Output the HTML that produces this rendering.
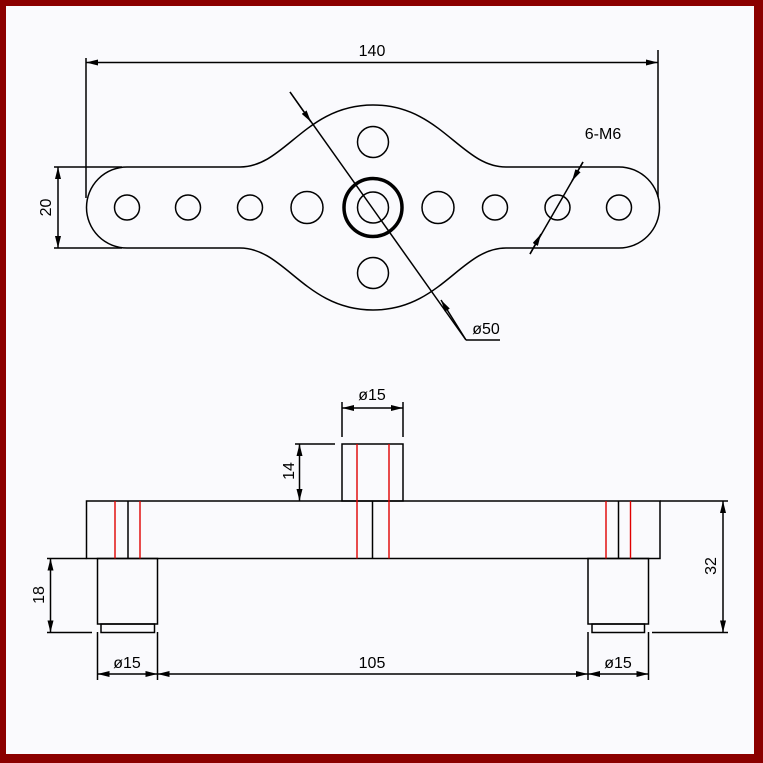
<!DOCTYPE html>
<html><head><meta charset="utf-8"><style>
html,body{margin:0;padding:0;background:#fff}
svg{display:block}
text{font-family:"Liberation Sans Narrow","Liberation Sans","DejaVu Sans",sans-serif;font-size:16px;fill:#000}
</style></head><body>
<svg width="763" height="763" viewBox="0 0 763 763" xmlns="http://www.w3.org/2000/svg">
<defs>
<marker id="a" viewBox="0 0 12 6" refX="12" refY="3" markerWidth="12" markerHeight="6" markerUnits="userSpaceOnUse" orient="auto-start-reverse"><path d="M0,0 L12,3 L0,6 z" fill="#000"/></marker>
</defs>
<rect x="0" y="0" width="763" height="763" fill="#8b0000"/>
<rect x="6" y="6" width="748" height="748" fill="#fafafd"/>
<g stroke="#000" stroke-width="1.5" fill="none">
<path d="M127,167 L240,167 C285,167 305,105 373,105 C441,105 461,167 506,167 L619,167 A40.5,40.5 0 0 1 619,248 L506,248 C461,248 441,310 373,310 C305,310 285,248 240,248 L127,248 A40.5,40.5 0 0 1 127,167 Z"/>
<circle cx="127" cy="207.5" r="12.5"/>
<circle cx="188" cy="207.5" r="12.5"/>
<circle cx="250" cy="207.5" r="12.5"/>
<circle cx="307" cy="207.5" r="16"/>
<circle cx="438" cy="207.5" r="16"/>
<circle cx="495" cy="207.5" r="12.5"/>
<circle cx="557.5" cy="207.5" r="12.5"/>
<circle cx="619" cy="207.5" r="12.5"/>
<circle cx="373" cy="142" r="15.5"/>
<circle cx="373" cy="273" r="15.5"/>
<circle cx="373" cy="207.5" r="15.5"/>
<circle cx="373" cy="207.5" r="29" stroke-width="3.5"/>
<line x1="86" y1="58" x2="86" y2="198"/>
<line x1="658" y1="50" x2="658" y2="197"/>
<line x1="86" y1="62.5" x2="658" y2="62.5" marker-start="url(#a)" marker-end="url(#a)"/>
<line x1="54" y1="167" x2="122" y2="167"/>
<line x1="54" y1="248" x2="122" y2="248"/>
<line x1="58" y1="167" x2="58" y2="248" marker-start="url(#a)" marker-end="url(#a)"/>
<line x1="290" y1="92" x2="466" y2="340"/>
<line x1="466" y1="340" x2="500" y2="340"/>
<line x1="290" y1="92" x2="311" y2="122" marker-end="url(#a)"/>
<line x1="466" y1="340" x2="441" y2="300" marker-end="url(#a)"/>
<line x1="583" y1="162" x2="530" y2="254"/>
<line x1="583" y1="162" x2="572" y2="181" marker-end="url(#a)"/>
<line x1="530" y1="254" x2="541" y2="234" marker-end="url(#a)"/>

<rect x="86.5" y="501" width="573.5" height="57.5"/>
<line x1="660" y1="501" x2="728" y2="501"/>
<line x1="47" y1="558.5" x2="86.5" y2="558.5"/>
<rect x="342" y="444" width="61" height="57"/>
<line x1="372.5" y1="501" x2="372.5" y2="558.5"/>
<line x1="128" y1="501" x2="128" y2="558.5"/>
<line x1="618.5" y1="501" x2="618.5" y2="558.5"/>
<rect x="97.5" y="558.5" width="60" height="65.5"/>
<rect x="101" y="624" width="53.5" height="8.5"/>
<rect x="588" y="558.5" width="60.5" height="65.5"/>
<rect x="592" y="624" width="52.5" height="8.5"/>
<line x1="295" y1="444" x2="335" y2="444"/>
<line x1="299.5" y1="444" x2="299.5" y2="501" marker-start="url(#a)" marker-end="url(#a)"/>
<line x1="342" y1="402" x2="342" y2="437"/>
<line x1="403" y1="402" x2="403" y2="437"/>
<line x1="342" y1="408" x2="403" y2="408" marker-start="url(#a)" marker-end="url(#a)"/>
<line x1="47" y1="632.5" x2="92" y2="632.5"/>
<line x1="50.5" y1="558.5" x2="50.5" y2="632.5" marker-start="url(#a)" marker-end="url(#a)"/>
<line x1="652" y1="632.5" x2="728" y2="632.5"/>
<line x1="723" y1="501" x2="723" y2="632.5" marker-start="url(#a)" marker-end="url(#a)"/>
<line x1="97.5" y1="632" x2="97.5" y2="680"/>
<line x1="157.5" y1="632" x2="157.5" y2="680"/>
<line x1="588" y1="632" x2="588" y2="680"/>
<line x1="648.5" y1="632" x2="648.5" y2="680"/>
<line x1="97.5" y1="674" x2="157.5" y2="674" marker-start="url(#a)" marker-end="url(#a)"/>
<line x1="157.5" y1="674" x2="588" y2="674" marker-start="url(#a)" marker-end="url(#a)"/>
<line x1="588" y1="674" x2="648.5" y2="674" marker-start="url(#a)" marker-end="url(#a)"/>
</g>
<g stroke="#e00000" stroke-width="1.4">
<line x1="357" y1="444" x2="357" y2="558.5"/>
<line x1="389" y1="444" x2="389" y2="558.5"/>
<line x1="115" y1="501" x2="115" y2="558.5"/>
<line x1="140" y1="501" x2="140" y2="558.5"/>
<line x1="606" y1="501" x2="606" y2="558.5"/>
<line x1="630.5" y1="501" x2="630.5" y2="558.5"/>
</g>
<text x="372" y="56" text-anchor="middle">140</text>
<text x="603" y="139" text-anchor="middle">6-M6</text>
<text x="486" y="334" text-anchor="middle">ø50</text>
<text transform="translate(51,207.5) rotate(-90)" text-anchor="middle">20</text>
<text x="372" y="400" text-anchor="middle">ø15</text>
<text transform="translate(294,471) rotate(-90)" text-anchor="middle">14</text>
<text transform="translate(44,595) rotate(-90)" text-anchor="middle">18</text>
<text transform="translate(716,566) rotate(-90)" text-anchor="middle">32</text>
<text x="127" y="668" text-anchor="middle">ø15</text>
<text x="372" y="668" text-anchor="middle">105</text>
<text x="618" y="668" text-anchor="middle">ø15</text>
</svg>
</body></html>
